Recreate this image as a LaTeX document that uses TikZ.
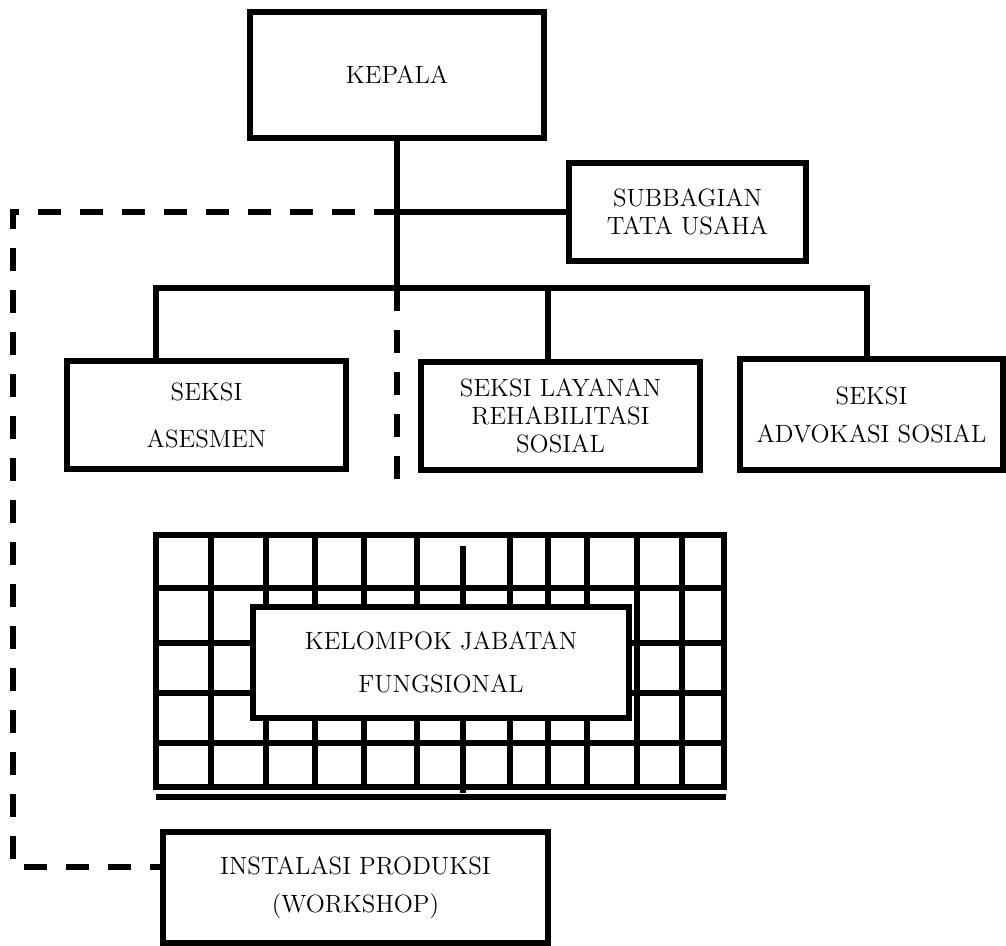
\documentclass[tikz,border=0pt]{standalone}
\usepackage{tikz}
\usetikzlibrary{positioning}

\begin{document}
\begin{tikzpicture}[x=0.5pt, y=-0.5pt,
        box/.style={draw, line width=2.6pt, fill=white, align=center, inner sep=0pt,
            font=\fontsize{12.5}{14}\selectfont},
        ln/.style={line width=2.6pt},
        dl/.style={line width=2.6pt, dash pattern=on 11.5pt off 9.5pt}]

        \useasboundingbox (0,0) rectangle (1006,946);

        % grid behind the functional group
        \draw[ln] (156,535) rectangle (724,787);
        \foreach \gx in {211,266,315,364,417,510,548,587,637,682}
            \draw[ln] (\gx,535) -- (\gx,787);
        \foreach \gy in {588,643,693,743}
            \draw[ln] (156,\gy) -- (726,\gy);
        \draw[ln] (156,797) -- (726,797);
        \coordinate (gt) at (463,546);
        \coordinate (gb) at (463,793);
        \draw[ln] (gt) -- (gb);

        \node[box, minimum width=147pt, minimum height=63pt] (kpl) at (397,75) {KEPALA};
        \node[box, minimum width=118.5pt, minimum height=49pt] (sub) at (687.5,212) {SUBBAGIAN\\TATA USAHA};

        \node[box, minimum width=139.5pt, minimum height=54pt] (ases) at (206.5,415) {SEKSI\\[9.5pt]ASESMEN};
        \node[box, minimum width=139.5pt, minimum height=54pt] (lay) at (560.5,416) {SEKSI LAYANAN\\REHABILITASI\\SOSIAL};
        \node[box, minimum width=131.5pt, minimum height=55.5pt] (adv) at (871.5,414.5) {SEKSI\\[5pt]ADVOKASI SOSIAL};

        \node[box, minimum width=188pt, minimum height=55.5pt] (kjf) at (441,662.5) {KELOMPOK JABATAN\\[7.5pt]FUNGSIONAL};
        \node[box, minimum width=192.5pt, minimum height=55.5pt] (inst) at (355.5,887.5) {INSTALASI PRODUKSI\\[5pt](WORKSHOP)};

        \coordinate (bj) at (397,288);
        \coordinate (bl) at (156,288);
        \coordinate (bm) at (548,288);
        \coordinate (br) at (867,288);
        \coordinate (dv) at (397,481);
        \coordinate (tl) at (13,212);
        \coordinate (bt) at (13,867);

        \draw[ln] (kpl.south) -- (bj);
        \draw[ln] (bj |- sub.west) -- (sub.west);
        \draw[ln] (bl |- ases.north) -- (bl) -- (br) -- (br |- adv.north);
        \draw[ln] (bm) -- (bm |- lay.north);

        \draw[dl] (bj) -- (dv);
        \draw[dl] (bj |- sub.west) -- (tl) -- (bt) -- (bt -| inst.west);

\end{tikzpicture}
\end{document}
